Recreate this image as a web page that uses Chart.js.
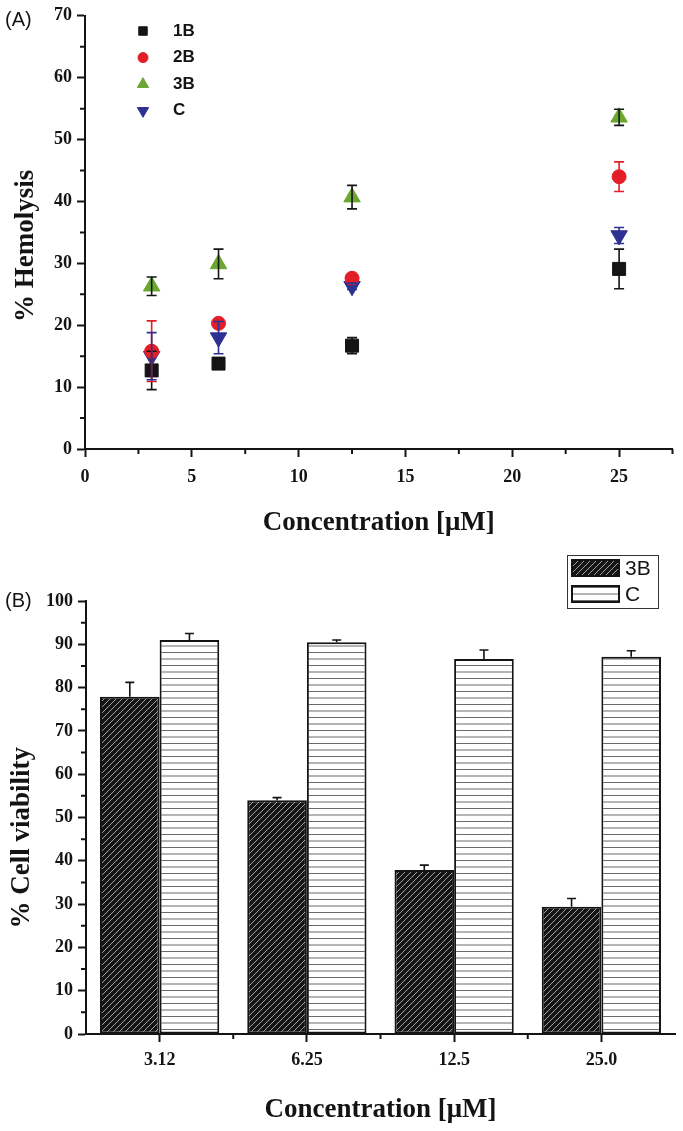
<!DOCTYPE html>
<html>
<head>
<meta charset="utf-8">
<script src="https://cdn.jsdelivr.net/npm/chart.js@4.4.0/dist/chart.umd.min.js"></script>
<style>
    html, body { margin: 0; padding: 0; background: #fff; }
    #wrapA { position: absolute; left: 0; top: 0; width: 683px; height: 545px; }
    #wrapB { position: absolute; left: 0; top: 545px; width: 683px; height: 586px; }
</style>
</head>
<body>
<div id="wrapA"><canvas id="chartA"></canvas></div>
<div id="wrapB"><canvas id="chartB"></canvas></div>
<script>
// Panel A - hemolysis (scatter with error bars)
const concentrations = [3.12, 6.25, 12.5, 25];
const hemolysis1B = [12.7, 13.8, 16.7, 29.1];
const hemolysis2B = [15.8, 20.3, 27.6, 44.0];
const hemolysis3B = [26.3, 29.9, 40.7, 53.6];
const hemolysisC = [15.0, 18.0, 26.3, 34.5];
const hemoErr1B = [3.1, 0.7, 1.3, 3.2];
const hemoErr2B = [4.9, 0.5, 0.4, 2.4];
const hemoErr3B = [1.5, 2.4, 1.9, 1.3];
const hemoErrC = [3.8, 2.6, 0.5, 1.3];

// Panel B - cell viability (bars with error bars)
const viabilityLabels = ['3.12', '6.25', '12.5', '25.0'];
const viability3B = [77.9, 54.0, 37.9, 29.4];
const viabilityC = [91.0, 90.5, 86.6, 87.1];
const viabilityErr3B = [3.3, 0.6, 1.1, 1.9];
const viabilityErrC = [1.5, 0.5, 2.1, 1.4];

const ink = '#141414';
const serif = 'Liberation Serif';
const sans = 'Liberation Sans';

Chart.defaults.font.family = serif;
Chart.defaults.color = ink;

function drawMarker(ctx, style, x, y, r, rotation, color) {
    ctx.save();
    ctx.fillStyle = color;
    ctx.strokeStyle = color;
    ctx.lineWidth = 1;
    ctx.beginPath();
    if (style === 'rect') {
        const s = r * Math.SQRT1_2;
        ctx.rect(x - s, y - s, 2 * s, 2 * s);
    } else if (style === 'circle') {
        ctx.arc(x, y, r, 0, Math.PI * 2);
    } else {
        let rad = (rotation || 0) * Math.PI / 180;
        for (let k = 0; k < 3; k++) {
            const px = x + Math.sin(rad) * r;
            const py = y - Math.cos(rad) * r;
            if (k === 0) ctx.moveTo(px, py); else ctx.lineTo(px, py);
            rad += Math.PI * 2 / 3;
        }
        ctx.closePath();
    }
    ctx.fill();
    ctx.stroke();
    ctx.restore();
}

// minor ticks (Chart.js only draws major ones)
const minorTicks = {
    id: 'minorTicks',
    afterDraw(chart, args, opts) {
        const ctx = chart.ctx;
        ctx.save();
        ctx.strokeStyle = ink;
        ctx.lineWidth = 2;
        const len = 5;
        Object.keys(opts.steps || {}).forEach(id => {
            const scale = chart.scales[id];
            const step = opts.steps[id];
            const positions = [];
            if (step === 'between') {
                for (let i = 0; i < scale.ticks.length - 1; i++) {
                    positions.push((scale.getPixelForTick(i) + scale.getPixelForTick(i + 1)) / 2);
                }
            } else {
                const major = scale.options.ticks.stepSize;
                for (let v = scale.min; v <= scale.max + 1e-9; v += step) {
                    const q = v / major;
                    if (Math.abs(q - Math.round(q)) < 1e-6) continue;
                    positions.push(scale.getPixelForValue(v));
                }
            }
            ctx.beginPath();
            positions.forEach(p => {
                if (scale.isHorizontal()) {
                    ctx.moveTo(p, scale.top);
                    ctx.lineTo(p, scale.top + len);
                } else {
                    ctx.moveTo(scale.right, p);
                    ctx.lineTo(scale.right - len, p);
                }
            });
            ctx.stroke();
        });
        ctx.restore();
    }
};

const errorBars = {
    id: 'errorBars',
    afterDatasetsDraw(chart, args, opts) {
        const ctx = chart.ctx;
        const yScale = chart.scales.y;
        chart.data.datasets.forEach((ds, i) => {
            if (!ds.errors) return;
            const meta = chart.getDatasetMeta(i);
            ctx.save();
            ctx.strokeStyle = ds.errorColor || ink;
            ctx.lineWidth = 1.6;
            meta.data.forEach((el, j) => {
                const raw = ds.data[j];
                const v = typeof raw === 'number' ? raw : raw.y;
                const e = ds.errors[j];
                const x = el.x;
                const top = yScale.getPixelForValue(v + e);
                const bottom = opts.plusOnly ? yScale.getPixelForValue(v) : yScale.getPixelForValue(v - e);
                const w = opts.capHalf;
                ctx.beginPath();
                ctx.moveTo(x, top);
                ctx.lineTo(x, bottom);
                ctx.moveTo(x - w, top);
                ctx.lineTo(x + w, top);
                if (!opts.plusOnly) {
                    ctx.moveTo(x - w, bottom);
                    ctx.lineTo(x + w, bottom);
                }
                ctx.stroke();
            });
            ctx.restore();
        });
    }
};

const panelLabel = {
    id: 'panelLabel',
    afterDraw(chart, args, opts) {
        const ctx = chart.ctx;
        ctx.save();
        ctx.font = '20px "' + sans + '"';
        ctx.fillStyle = ink;
        ctx.textBaseline = 'middle';
        ctx.fillText(opts.text, opts.x, opts.y);
        ctx.restore();
    }
};

const markerLegend = {
    id: 'markerLegend',
    afterDraw(chart, args, opts) {
        const ctx = chart.ctx;
        ctx.save();
        ctx.font = 'bold 17px "' + sans + '"';
        ctx.textBaseline = 'middle';
        chart.data.datasets.forEach((ds, i) => {
            const y = opts.y + i * opts.rowGap;
            drawMarker(ctx, ds.pointStyle, opts.x, y, ds.legendRadius, ds.pointRotation, ds.backgroundColor);
            ctx.fillStyle = ink;
            ctx.fillText(ds.label, opts.textX, y);
        });
        ctx.restore();
    }
};

const patternLegend = {
    id: 'patternLegend',
    afterDraw(chart, args, opts) {
        const ctx = chart.ctx;
        ctx.save();
        ctx.strokeStyle = '#333';
        ctx.lineWidth = 1;
        ctx.strokeRect(opts.x + 0.5, opts.y + 0.5, opts.w, opts.h);
        ctx.font = '21px "' + sans + '"';
        ctx.textBaseline = 'middle';
        chart.data.datasets.forEach((ds, i) => {
            const sy = opts.y + 4 + i * 26;
            ctx.fillStyle = ds.backgroundColor;
            ctx.fillRect(opts.x + 4, sy, 49, 18);
            ctx.strokeStyle = ink;
            ctx.lineWidth = 2;
            ctx.strokeRect(opts.x + 5, sy + 1, 47, 16);
            ctx.fillStyle = ink;
            ctx.fillText(ds.label, opts.x + 58, sy + 10);
        });
        ctx.restore();
    }
};

function tickFont() {
    return { family: serif, size: 18, weight: 'bold' };
}

function titleFont() {
    return { family: serif, size: 27, weight: 'bold' };
}

// ---------- Panel A ----------
const seriesA = [
    { label: '1B', values: hemolysis1B, errors: hemoErr1B, color: '#151515', errColor: '#151515', style: 'rect', r: 9.2, lr: 6, rot: 0 },
    { label: '2B', values: hemolysis2B, errors: hemoErr2B, color: '#e31e26', errColor: '#e31e26', style: 'circle', r: 7, lr: 5, rot: 0 },
    { label: '3B', values: hemolysis3B, errors: hemoErr3B, color: '#6ca632', errColor: '#151515', style: 'triangle', r: 9.5, lr: 6.5, rot: 0 },
    { label: 'C', values: hemolysisC, errors: hemoErrC, color: '#2e3192', errColor: '#2e3192', style: 'triangle', r: 9.5, lr: 6.5, rot: 180 }
];

new Chart(document.getElementById('chartA'), {
    type: 'scatter',
    data: {
        datasets: seriesA.map(s => ({
            label: s.label,
            data: concentrations.map((c, i) => ({ x: c, y: s.values[i] })),
            errors: s.errors,
            errorColor: s.errColor,
            backgroundColor: s.color,
            borderColor: s.color,
            pointStyle: s.style,
            pointRotation: s.rot,
            pointRadius: s.r,
            pointBorderWidth: 1,
            legendRadius: s.lr
        }))
    },
    options: {
        responsive: true,
        maintainAspectRatio: false,
        animation: false,
        layout: { padding: { top: 13, right: 6, left: 0, bottom: 0 } },
        scales: {
            x: {
                type: 'linear',
                min: 0,
                max: 27.5,
                ticks: { stepSize: 5, includeBounds: false, font: tickFont(), color: ink, padding: 10 },
                grid: { drawOnChartArea: false, tickLength: 8, tickWidth: 2, tickColor: ink },
                border: { color: ink, width: 2 },
                title: { display: true, text: 'Concentration [μM]', font: titleFont(), color: ink, padding: { top: 0, bottom: 5.8 } },
                afterFit: s => { s.height = 96; }
            },
            y: {
                min: 0,
                max: 70,
                ticks: { stepSize: 10, font: tickFont(), color: ink, padding: 5 },
                grid: { drawOnChartArea: false, tickLength: 8, tickWidth: 2, tickColor: ink },
                border: { color: ink, width: 2 },
                title: { display: true, text: '% Hemolysis\u2003', font: titleFont(), color: ink, padding: { top: 9.8, bottom: 0 } },
                afterFit: s => { s.width = 85; }
            }
        },
        plugins: {
            legend: { display: false },
            tooltip: { enabled: false },
            minorTicks: { steps: { x: 2.5, y: 5 } },
            errorBars: { plusOnly: false, capHalf: 5 },
            panelLabel: { text: '(A)', x: 5, y: 20 },
            markerLegend: { x: 143, textX: 173, y: 31, rowGap: 26.6 }
        }
    },
    plugins: [minorTicks, errorBars, panelLabel, markerLegend]
});

// ---------- Panel B ----------
const ctxB = document.getElementById('chartB').getContext('2d');

function diagonalPattern() {
    const c = document.createElement('canvas');
    c.width = 6; c.height = 6;
    const g = c.getContext('2d');
    g.fillStyle = '#151515';
    g.fillRect(0, 0, 6, 6);
    g.strokeStyle = '#a0a0a0';
    g.lineWidth = 1;
    g.beginPath();
    g.moveTo(-1, 7); g.lineTo(7, -1);
    g.moveTo(-1, 1); g.lineTo(1, -1);
    g.moveTo(5, 7); g.lineTo(7, 5);
    g.stroke();
    return ctxB.createPattern(c, 'repeat');
}

function horizontalPattern() {
    const c = document.createElement('canvas');
    c.width = 8; c.height = 13;
    const g = c.getContext('2d');
    g.fillStyle = '#ffffff';
    g.fillRect(0, 0, 8, 13);
    g.strokeStyle = '#6a6a6a';
    g.lineWidth = 1.2;
    g.beginPath();
    g.moveTo(0, 3.5); g.lineTo(8, 3.5);
    g.moveTo(0, 10); g.lineTo(8, 10);
    g.stroke();
    return ctxB.createPattern(c, 'repeat');
}

new Chart(ctxB, {
    type: 'bar',
    data: {
        labels: viabilityLabels,
        datasets: [
            {
                label: '3B',
                data: viability3B,
                errors: viabilityErr3B,
                backgroundColor: diagonalPattern(),
                borderColor: ink,
                borderWidth: 2,
                borderSkipped: false
            },
            {
                label: 'C',
                data: viabilityC,
                errors: viabilityErrC,
                backgroundColor: horizontalPattern(),
                borderColor: ink,
                borderWidth: 2,
                borderSkipped: false
            }
        ]
    },
    options: {
        responsive: true,
        maintainAspectRatio: false,
        animation: false,
        categoryPercentage: 0.81,
        barPercentage: 1.0,
        layout: { padding: { top: 56, right: 8, left: 0, bottom: 0 } },
        scales: {
            x: {
                offset: true,
                ticks: { font: tickFont(), color: ink, padding: 8 },
                grid: { offset: false, drawOnChartArea: false, tickLength: 8, tickWidth: 2, tickColor: ink },
                border: { color: ink, width: 2 },
                title: { display: true, text: 'Concentration [μM]', font: titleFont(), color: ink, padding: { top: 0, bottom: 4.8 } },
                afterFit: s => { s.height = 97; }
            },
            y: {
                min: 0,
                max: 100,
                ticks: { stepSize: 10, font: tickFont(), color: ink, padding: 5 },
                grid: { drawOnChartArea: false, tickLength: 8, tickWidth: 2, tickColor: ink },
                border: { color: ink, width: 2 },
                title: { display: true, text: '% Cell viability\u2003\u2002', font: titleFont(), color: ink, padding: { top: 5.8, bottom: 0 } },
                afterFit: s => { s.width = 86; }
            }
        },
        plugins: {
            legend: { display: false },
            tooltip: { enabled: false },
            minorTicks: { steps: { x: 'between', y: 5 } },
            errorBars: { plusOnly: true, capHalf: 4.5 },
            panelLabel: { text: '(B)', x: 5, y: 56 },
            patternLegend: { x: 567, y: 10, w: 91, h: 53 }
        }
    },
    plugins: [minorTicks, errorBars, panelLabel, patternLegend]
});
</script>
</body>
</html>
